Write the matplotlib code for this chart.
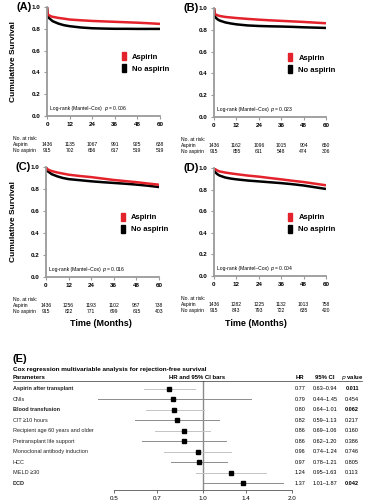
import numpy as np
import matplotlib
matplotlib.use('Agg')
from matplotlib import pyplot as plt
from matplotlib import transforms
from matplotlib.patches import Patch

plt.rcParams['font.family'] = ['Liberation Sans', 'DejaVu Sans']

# ---- survival data ----
months = [0, 0.3, 1, 2, 3, 6, 9, 12, 18, 24, 30, 36, 42, 48, 54, 60]

surv_a_asp = [1.0, 0.935, 0.925, 0.915, 0.91, 0.9, 0.893, 0.885, 0.878, 0.872, 0.868, 0.864, 0.86, 0.856, 0.851, 0.845]
surv_a_no = [1.0, 0.92, 0.9, 0.885, 0.87, 0.848, 0.833, 0.824, 0.812, 0.805, 0.802, 0.8, 0.8, 0.799, 0.799, 0.799]
surv_b_asp = [1.0, 0.95, 0.94, 0.932, 0.927, 0.918, 0.913, 0.908, 0.9, 0.893, 0.887, 0.882, 0.877, 0.872, 0.866, 0.86]
surv_b_no = [1.0, 0.93, 0.91, 0.895, 0.885, 0.868, 0.858, 0.85, 0.84, 0.835, 0.832, 0.83, 0.827, 0.823, 0.82, 0.817]
surv_c_asp = [1.0, 0.985, 0.978, 0.97, 0.963, 0.95, 0.94, 0.93, 0.918, 0.908, 0.895, 0.882, 0.872, 0.862, 0.85, 0.839]
surv_c_no = [1.0, 0.97, 0.96, 0.948, 0.935, 0.915, 0.9, 0.89, 0.88, 0.87, 0.862, 0.855, 0.848, 0.84, 0.83, 0.818]
surv_d_asp = [1.0, 0.99, 0.985, 0.975, 0.968, 0.958, 0.95, 0.943, 0.93, 0.92, 0.907, 0.895, 0.882, 0.87, 0.855, 0.84]
surv_d_no = [1.0, 0.97, 0.955, 0.94, 0.93, 0.912, 0.902, 0.895, 0.884, 0.876, 0.868, 0.86, 0.85, 0.838, 0.822, 0.806]

risk_times = [0, 12, 24, 36, 48, 60]
risk_a_asp = [1436, 1135, 1067, 991, 925, 638]
risk_a_no = [915, 702, 656, 617, 519, 519]
risk_b_asp = [1436, 1162, 1096, 1015, 904, 650]
risk_b_no = [915, 855, 611, 548, 474, 306]
risk_c_asp = [1436, 1256, 1193, 1102, 987, 738]
risk_c_no = [915, 822, 771, 699, 615, 403]
risk_d_asp = [1436, 1282, 1225, 1132, 1013, 758]
risk_d_no = [915, 843, 793, 722, 635, 420]

logrank_p = ['0.006', '0.023', '0.016', '0.004']
panel_tags = ['(A)', '(B)', '(C)', '(D)']

# ---- forest plot data ----
params = ['Aspirin after transplant', 'CNIs', 'Blood transfusion', 'CIT \u226510 hours',
          'Recipient age 60 years and older', 'Pretransplant life support',
          'Monoclonal antibody induction', 'HCC', 'MELD \u226530', 'DCD']
hr = [0.77, 0.79, 0.80, 0.82, 0.86, 0.86, 0.96, 0.97, 1.24, 1.37]
ci_low = [0.63, 0.44, 0.64, 0.59, 0.69, 0.62, 0.74, 0.78, 0.95, 1.01]
ci_high = [0.94, 1.45, 1.01, 1.13, 1.06, 1.20, 1.24, 1.21, 1.63, 1.87]
pvals = ['0.011', '0.454', '0.062', '0.217', '0.160', '0.386', '0.746', '0.805', '0.113', '0.042']
bold_rows = [0, 2, 9]

RED = '#e3222b'
AX_GREY = '#9a9a9a'

fig = plt.figure(figsize=(3.68, 5.0), dpi=100)


def px_rect(x0, y0, x1, y1):
    return [x0 / 368, 1 - y1 / 500, (x1 - x0) / 368, (y1 - y0) / 500]


def km_panel(rect, asp, no, r_asp, r_no, p, tag, label_x):
    ax = fig.add_axes(rect)
    ax.plot(months, no, color='black', lw=1.8, solid_capstyle='butt')
    ax.plot(months, asp, color=RED, lw=1.8, solid_capstyle='butt')
    ax.set_xlim(0, 60)
    ax.set_ylim(0, 1.0)
    ax.set_xticks(risk_times)
    ax.set_yticks([0, 0.2, 0.4, 0.6, 0.8, 1.0])
    ax.set_yticklabels(['0.0', '0.2', '0.4', '0.6', '0.8', '1.0'])
    for s in ['top', 'right']:
        ax.spines[s].set_visible(False)
    for s in ['left', 'bottom']:
        ax.spines[s].set_color(AX_GREY)
        ax.spines[s].set_linewidth(1.3)
    ax.tick_params(colors=AX_GREY, length=2.5, width=0.8, labelsize=4.5, pad=2)
    for lab in ax.get_xticklabels() + ax.get_yticklabels():
        lab.set_color('black')
        lab.set_fontweight('bold')
    ax.text(0.5, 0.07, 'Log-rank (Mantel\u2013Cox) ', transform=ax.transAxes,
            ha='right', va='center', fontsize=3.6)
    ax.text(0.5, 0.07, '$p$ = ' + p, transform=ax.transAxes, ha='left', va='center', fontsize=3.6)
    handles = [Patch(color=RED), Patch(color='black')]
    ax.legend(handles, ['Aspirin', 'No aspirin'], loc='center left', bbox_to_anchor=(0.6, 0.49),
              frameon=False, fontsize=5.5, handlelength=0.55, handleheight=1.2,
              handletextpad=0.8, labelspacing=0.45, prop={'weight': 'bold', 'size': 5.5})
    ax.text(-0.27, 1.0, tag, transform=ax.transAxes, ha='left', va='center',
            fontsize=8, fontweight='bold')
    # number at risk table
    tr = transforms.blended_transform_factory(ax.transData, ax.transAxes)
    trf = transforms.blended_transform_factory(fig.transFigure, ax.transAxes)
    ax.text(label_x, -0.205, 'No. at risk:', transform=trf, fontsize=3.6, va='center')
    ax.text(label_x, -0.26, 'Aspirin', transform=trf, fontsize=3.6, va='center')
    ax.text(label_x, -0.315, 'No aspirin', transform=trf, fontsize=3.6, va='center')
    for t, a, n in zip(risk_times, r_asp, r_no):
        ax.text(t, -0.26, str(a), transform=tr, fontsize=3.6, ha='center', va='center')
        ax.text(t, -0.315, str(n), transform=tr, fontsize=3.6, ha='center', va='center')
    return ax


km_panel(px_rect(47, 7, 160, 116), surv_a_asp, surv_a_no, risk_a_asp, risk_a_no,
         logrank_p[0], panel_tags[0], 13 / 368)
km_panel(px_rect(214, 8, 326, 117), surv_b_asp, surv_b_no, risk_b_asp, risk_b_no,
         logrank_p[1], panel_tags[1], 181 / 368)
km_panel(px_rect(46, 167, 159, 277), surv_c_asp, surv_c_no, risk_c_asp, risk_c_no,
         logrank_p[2], panel_tags[2], 13 / 368)
km_panel(px_rect(214, 168, 326, 276), surv_d_asp, surv_d_no, risk_d_asp, risk_d_no,
         logrank_p[3], panel_tags[3], 181 / 368)

fig.text(14 / 368, 1 - 62 / 500, 'Cumulative Survival', rotation=90, ha='center', va='center',
         fontsize=6, fontweight='bold')
fig.text(14 / 368, 1 - 222 / 500, 'Cumulative Survival', rotation=90, ha='center', va='center',
         fontsize=6, fontweight='bold')
fig.text(101 / 368, 1 - 324 / 500, 'Time (Months)', ha='center', va='center',
         fontsize=6.5, fontweight='bold')
fig.text(256 / 368, 1 - 324 / 500, 'Time (Months)', ha='center', va='center',
         fontsize=6.5, fontweight='bold')

# ---- panel E: forest plot ----
fx = fig.add_axes(px_rect(90, 381, 300, 490))
n = len(params)
rows = np.arange(n)
fx.set_xscale('log')
fx.set_xlim(0.415, 2.128)
fx.set_ylim(n - 0.38, -0.76)
for i in rows:
    col = '#c4c4c4' if i % 2 == 0 else '#8c8c8c'
    fx.plot([ci_low[i], ci_high[i]], [i, i], color=col, lw=0.7, zorder=1)
fx.plot(hr, rows, 's', color='black', ms=2.2, zorder=3)
fx.axvline(1.0, color='#8a8a8a', lw=1.0, zorder=0)
fx.set_xticks([0.5, 0.7, 1.0, 1.4, 2.0])
fx.set_xticklabels(['0.5', '0.7', '1.0', '1.4', '2.0'])
fx.xaxis.set_minor_locator(matplotlib.ticker.NullLocator())
fx.set_yticks([])
for s in ['top', 'right', 'left']:
    fx.spines[s].set_visible(False)
fx.spines['bottom'].set_bounds(0.5, 2.0)
fx.spines['bottom'].set_color('#555555')
fx.spines['bottom'].set_linewidth(0.6)
fx.tick_params(axis='x', length=2, width=0.6, labelsize=4.5, pad=2, colors='#555555')
for lab in fx.get_xticklabels():
    lab.set_color('black')

trE = transforms.blended_transform_factory(fig.transFigure, fx.transData)
for i in rows:
    w = 'bold' if i in bold_rows else 'normal'
    fx.text(13 / 368, i, params[i], transform=trE, fontsize=4.0, va='center', fontweight=w,
            color='#222222')
    fx.text(300 / 368, i, '%.2f' % hr[i], transform=trE, fontsize=4.0, va='center', ha='center')
    fx.text(325 / 368, i, '%.2f\u2013%.2f' % (ci_low[i], ci_high[i]), transform=trE,
            fontsize=4.0, va='center', ha='center')
    fx.text(352 / 368, i, pvals[i], transform=trE, fontsize=4.0, va='center', ha='center',
            fontweight=w)

fig.text(13 / 368, 1 - 359 / 500, '(E)', fontsize=8, fontweight='bold', va='center')
fig.text(13 / 368, 1 - 370 / 500, 'Cox regression multivariable analysis for rejection-free survival',
         fontsize=4.6, fontweight='bold', va='center')
fig.text(13 / 368, 1 - 377.5 / 500, 'Parameters', fontsize=4.3, fontweight='bold', va='center')
fig.text(197 / 368, 1 - 377.5 / 500, 'HR and 95% CI bars', fontsize=4.3, fontweight='bold',
         va='center', ha='center')
fig.text(300 / 368, 1 - 377.5 / 500, 'HR', fontsize=4.3, fontweight='bold', va='center', ha='center')
fig.text(325 / 368, 1 - 377.5 / 500, '95% CI', fontsize=4.3, fontweight='bold', va='center', ha='center')
fig.text(352 / 368, 1 - 377.5 / 500, '$\\it{p}$ value', fontsize=4.3, fontweight='bold',
         va='center', ha='center')
fig.add_artist(plt.Line2D([13 / 368, 362 / 368], [1 - 381 / 500, 1 - 381 / 500],
                          color='#333333', lw=0.5))

fig.savefig('out.png', dpi=100)
